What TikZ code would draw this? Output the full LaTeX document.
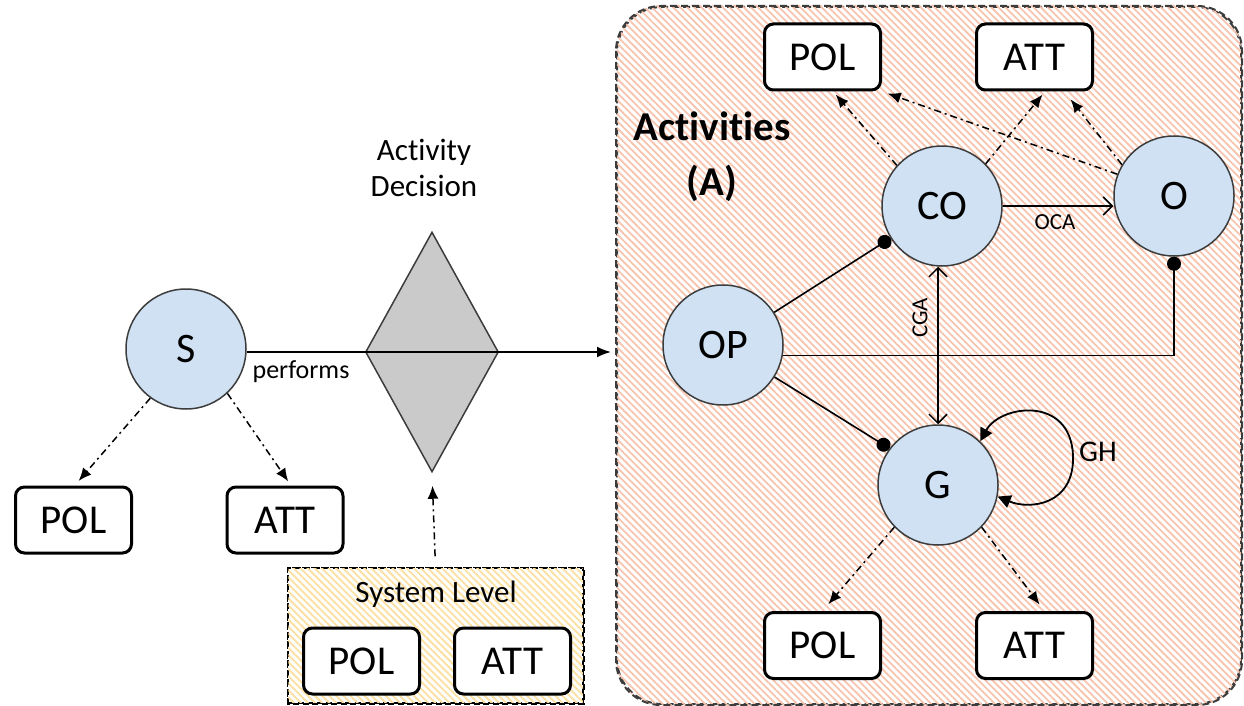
\documentclass[tikz,border=0pt]{standalone}
\usepackage{fontspec}
\setmainfont[Ligatures=NoCommon]{Carlito}
\usetikzlibrary{arrows.meta,shapes.geometric,patterns.meta,calc}
\definecolor{nodeblue}{RGB}{207,225,242}
\definecolor{salmonstripe}{RGB}{247,196,175}
\definecolor{yellowstripe}{RGB}{252,224,160}
\definecolor{decgray}{RGB}{202,202,202}
\definecolor{edgegray}{RGB}{60,60,60}
\tikzset{
  circ/.style={circle, draw=edgegray, line width=1.5pt, fill=nodeblue, minimum size=120pt, inner sep=0pt, font=\fontsize{42}{50}\selectfont},
  box/.style={rectangle, rounded corners=9pt, draw=black, line width=3pt, fill=white, minimum width=116pt, minimum height=66pt, inner sep=0pt, font=\fontsize{41}{49}\selectfont},
  decshape/.style={diamond, draw=edgegray, line width=1.5pt, fill=decgray, minimum width=133pt, minimum height=240pt, inner sep=0pt},
  actbox/.style={rectangle, rounded corners=45pt, draw=edgegray, line width=2pt, dash pattern=on 7pt off 4pt, fill=white, minimum width=624pt, minimum height=697pt, inner sep=0pt},
  sysbox/.style={rectangle, draw=black, line width=1.5pt, dash pattern=on 6pt off 3.5pt, fill=white, minimum width=295pt, minimum height=135pt, inner sep=0pt},
  titletxt/.style={align=center, inner sep=0pt, font=\fontsize{31}{36}\selectfont, text=black},
  acttxt/.style={align=center, inner sep=0pt, font=\fontsize{41}{55}\selectfont\bfseries},
  smalllab/.style={inner sep=0pt, font=\fontsize{23}{26}\selectfont},
  midlab/.style={inner sep=0pt, font=\fontsize{26}{30}\selectfont},
  conn/.style={line width=1.6pt},
  dd/.style={line width=1.5pt, dash pattern=on 7pt off 4pt on 2pt off 4pt, -{Latex[length=13pt,width=11pt]}},
  dotend/.style={-{Circle[length=14pt]}},
  barb/.style={{Straight Barb[length=9pt,width=18pt,line width=1.5pt]}-{Straight Barb[length=9pt,width=18pt,line width=1.5pt]}},
  barbend/.style={-{Straight Barb[length=9pt,width=18pt,line width=1.5pt]}},
  loopend/.style={{Triangle[length=13pt,width=13pt]}-{Triangle[length=13pt,width=13pt]}}
}
\begin{document}
\begin{tikzpicture}[x=1pt,y=-1pt]
\useasboundingbox (0,0) rectangle (1244,706);
% background boxes
\node[actbox] (act) at (929,355.5) {};
\fill[pattern={Lines[angle=-45,distance=5pt,line width=1.8pt]}, pattern color=salmonstripe, rounded corners=45pt] ($(act.north west)+(1,-1)$) rectangle ($(act.south east)+(-1,1)$);
\draw[edgegray, line width=2pt, dash pattern=on 7pt off 4pt, rounded corners=45pt] (act.north west) rectangle (act.south east);
\node[sysbox] (sys) at (435.5,635.5) {};
\fill[pattern={Lines[angle=-45,distance=5pt,line width=1.8pt]}, pattern color=yellowstripe] ($(sys.north west)+(1,1)$) rectangle ($(sys.south east)+(-1,-1)$);
\draw[black, line width=1.5pt, dash pattern=on 6pt off 3.5pt] (sys.north west) rectangle (sys.south east);

% left part
\node[circ] (S) at (186,349) {S};
\node[decshape] (dec) at (432,352) {};
\node[titletxt] (adlab) at (424,168) {Activity\\Decision};
\node[midlab] (perf) at (301,372) {performs};
\coordinate (aend) at (611,352);
\draw[conn, line width=1.8pt, -{Latex[length=14pt,width=11pt]}] (S.east |- dec.west) -- (aend);
\node[box] (lpol) at (73.5,520) {POL};
\node[box] (latt) at (285,520) {ATT};
\draw[dd, shorten >=6pt] (S.234) -- (lpol.88);
\draw[dd, shorten >=5pt] (S.313) -- (latt.80);

\node[titletxt] (syslab) at (436,594) {System Level};
\node[box] (spol) at (361.5,661) {POL};
\node[box] (satt) at (512.5,661) {ATT};
\draw[dd, shorten <=11pt, shorten >=13pt] (sys.north) -- (dec.south);

% activities
\node[acttxt] (actlab) at (712,157) {Activities\\(A)};
\node[box] (tpol) at (822.5,57) {POL};
\node[box] (tatt) at (1034.5,57) {ATT};
\node[box] (bpol) at (822.5,645.5) {POL};
\node[box] (batt) at (1034.5,645.5) {ATT};
\node[circ] (CO) at (942,206) {CO};
\node[circ] (O) at (1174,196) {O};
\node[circ] (OP) at (723,345) {OP};
\node[circ] (G) at (938,485) {G};

\draw[dd, shorten >=4pt] (CO.138) -- (tpol.287);
\draw[dd, shorten >=4pt] (CO.44) -- (tatt.287);
\draw[dd, shorten >=6pt] (O.159) -- (tpol.south east);
\draw[dd, shorten >=10pt] (O.149) -- (tatt.311);
\draw[dd, shorten >=9pt] (G.224) -- (bpol.north);
\draw[dd, shorten >=8pt] (G.316) -- (batt.74);

\draw[conn, barbend] (CO.east) -- (CO.east -| O.west);
\node[smalllab] (ocalab) at (1055,222) {OCA};
\draw[conn, dotend] (OP) -- (CO.212);
\draw[conn, dotend] (OP) -- (G.143);
\draw[conn, dotend] (OP.-10.6) -| (O.south);
\draw[conn, barb] (G.north |- CO.south) -- (G.north);
\node[smalllab, rotate=90] (cgalab) at (920,318) {CGA};
\draw[conn, line width=1.8pt, loopend] (G.46) .. controls (1000,405) and (1070,395) .. (1073,455) .. controls (1075,505) and (1030,510) .. (G.-11);
\node[inner sep=0pt, font=\fontsize{30}{34}\selectfont] (ghlab) at (1098,452) {GH};
\end{tikzpicture}
\end{document}
